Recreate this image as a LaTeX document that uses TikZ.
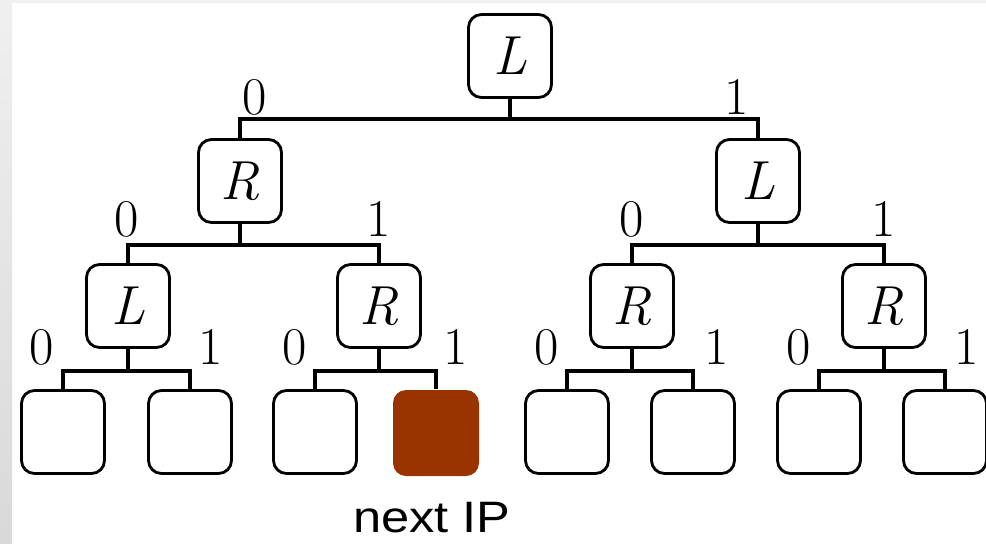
\documentclass[tikz,border=0pt]{standalone}
\usepackage{fontspec}
\newfontfamily\labelsans{Liberation Sans}
\definecolor{ipred}{RGB}{153,51,0}
\begin{document}
\begin{tikzpicture}[x=0.5pt,y=-0.5pt,
  box/.style={draw, line width=1.4pt, rounded corners=6.5pt,
    minimum width=41.5pt, minimum height=41.5pt, inner sep=0pt,
    fill=white, font=\fontsize{27.5}{32}\selectfont\itshape},
  hot/.style={box, draw=none, fill=ipred, minimum width=43pt, minimum height=43pt},
  link/.style={line width=2.1pt},
  bit/.style={inner sep=0pt, font=\fontsize{26.5}{32}\selectfont}]

% page frame
\useasboundingbox (0,0) rectangle (986,543);
\fill[white] (0,0) rectangle (986,543);
\shade[top color=gray!12, bottom color=gray!30] (0,0) rectangle (12,543);
\fill[gray!12] (12,0) rectangle (986,3);

% inner nodes
\node[box] (root) at (510,56) {L};
\node[box] (a) at (240,181) {R};
\node[box] (b) at (758,181) {L};
\node[box] (c) at (128,306) {L};
\node[box] (d) at (379,306) {R};
\node[box] (e) at (632,306) {R};
\node[box] (f) at (884,306) {R};

% leaves
\node[box] (l1) at (63,432) {};
\node[box] (l2) at (190,432) {};
\node[box] (l3) at (315,432) {};
\node[hot] (l4) at (436,433) {};
\node[box] (l5) at (567,432) {};
\node[box] (l6) at (693,432) {};
\node[box] (l7) at (819,432) {};
\node[box] (l8) at (945,432) {};

% branches
\draw[link] (root.south) -- ++(0,20) coordinate (j0);
\draw[link] (a.north) |- (j0) -| (b.north);
\draw[link] (a.south) -- ++(0,21) coordinate (j1);
\draw[link] (c.north) |- (j1) -| (d.north);
\draw[link] (b.south) -- ++(0,21) coordinate (j2);
\draw[link] (e.north) |- (j2) -| (f.north);
\draw[link] (c.south) -- ++(0,22) coordinate (j3);
\draw[link] (l1.north) |- (j3) -| (l2.north);
\draw[link] (d.south) -- ++(0,22) coordinate (j4);
\draw[link] (l3.north) |- (j4) -| (l4.north);
\draw[link] (e.south) -- ++(0,22) coordinate (j5);
\draw[link] (l5.north) |- (j5) -| (l6.north);
\draw[link] (f.south) -- ++(0,22) coordinate (j6);
\draw[link] (l7.north) |- (j6) -| (l8.north);

% branch bits
\node[bit] (t0) at (255,97) {0};
\node[bit] (t1) at (737,97) {1};
\node[bit] (m0) at (127,219) {0};
\node[bit] (m1) at (379,219) {1};
\node[bit] (m2) at (632,219) {0};
\node[bit] (m3) at (884,219) {1};
\node[bit] (b0) at (42,347) {0};
\node[bit] (b1) at (211,347) {1};
\node[bit] (b2) at (295,347) {0};
\node[bit] (b3) at (456,347) {1};
\node[bit] (b4) at (547,347) {0};
\node[bit] (b5) at (717,347) {1};
\node[bit] (b6) at (799,347) {0};
\node[bit] (b7) at (967,347) {1};

% caption under the selected leaf
\node[inner sep=0pt, font=\labelsans\fontsize{22}{26}\selectfont] (cap) at (432,518)
  {\scalebox{1.15}[1]{next IP}};
\end{tikzpicture}
\end{document}
